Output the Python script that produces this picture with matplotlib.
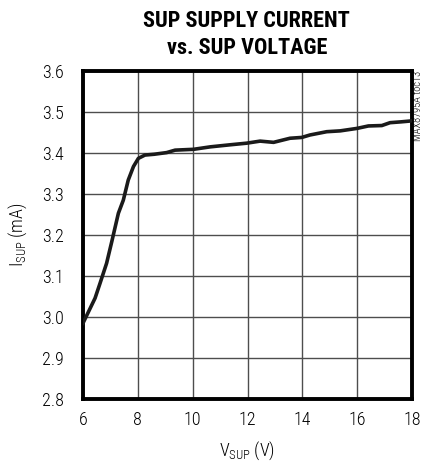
import matplotlib
matplotlib.use("Agg")
import matplotlib.pyplot as plt

v_sup = [6.0, 6.44, 6.62, 6.86, 7.05, 7.29, 7.47, 7.65, 7.84, 8.02, 8.26, 8.6, 9.05, 9.36,
         10.03, 10.64, 11.36, 11.97, 12.46, 12.95, 13.55, 13.98, 14.28, 14.89, 15.38,
         15.99, 16.41, 16.9, 17.2, 17.6, 17.93, 18.0]
i_sup = [2.985, 3.046, 3.082, 3.131, 3.184, 3.253, 3.285, 3.334, 3.367, 3.387, 3.395, 3.397,
         3.401, 3.407, 3.409, 3.415, 3.420, 3.424, 3.429, 3.426, 3.436, 3.438, 3.444, 3.452,
         3.454, 3.460, 3.466, 3.467, 3.474, 3.476, 3.478, 3.479]
x_ticks = [6, 8, 10, 12, 14, 16, 18]
y_ticks = [2.8, 2.9, 3.0, 3.1, 3.2, 3.3, 3.4, 3.5, 3.6]

tick_font = dict(family="Roboto Condensed", weight="light", size=13)

fig = plt.figure(figsize=(4.22, 4.66), dpi=100)
ax = fig.add_axes([0.1967, 0.1438, 0.7796, 0.7038])
ax.plot(v_sup, i_sup, color="#1a1a1a", lw=2.6, solid_joinstyle="round", zorder=3)
ax.set_xlim(6, 18)
ax.set_ylim(2.8, 3.6)
ax.set_xticks(x_ticks)
ax.set_yticks(y_ticks)
ax.set_xticklabels([str(t) for t in x_ticks], fontdict=tick_font)
ax.set_yticklabels([f"{t:.1f}" for t in y_ticks], fontdict=tick_font)
ax.tick_params(axis="x", length=0, pad=9)
ax.tick_params(axis="y", length=0, pad=14)
ax.grid(True, color="#4d4d4d", lw=1.0)
for s in ax.spines.values():
    s.set_linewidth(2.8)
    s.set_color("black")
ax.set_xlabel("V$_{\\mathregular{SUP}}$ (V)", fontdict=tick_font, labelpad=7)
ax.set_ylabel("I$_{\\mathregular{SUP}}$ (mA)", fontdict=tick_font, labelpad=9)
fig.text(0.585, 0.978, "SUP SUPPLY CURRENT\nvs. SUP VOLTAGE", ha="center", va="top",
         family="Roboto Condensed", weight="bold", fontsize=16, linespacing=1.25)
fig.text(0.99, 0.848, "MAX8795A toc13", rotation=90, ha="center", va="top",
         family="Roboto Condensed", weight="light", fontsize=7.5)
fig.savefig("out.png", dpi=100)
